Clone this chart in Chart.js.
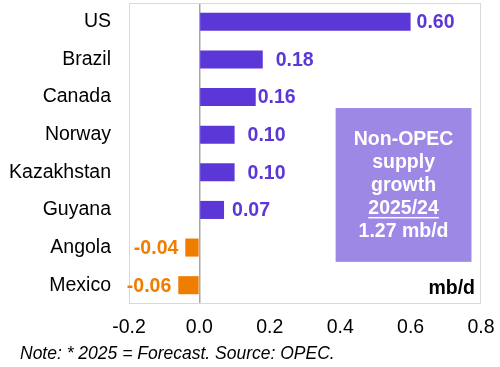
<!DOCTYPE html>
<html>
<head>
<meta charset="utf-8">
<script src="https://cdn.jsdelivr.net/npm/chart.js@4.4.1/dist/chart.umd.min.js"></script>
<style>
html,body{margin:0;padding:0;background:#fff;}
#wrap{width:500px;height:367px;position:relative;}
</style>
</head>
<body>
<div id="wrap"><canvas id="c" width="500" height="367"></canvas></div>
<script>
const categories = ["US","Brazil","Canada","Norway","Kazakhstan","Guyana","Angola","Mexico"];
const growth = [0.60, 0.18, 0.16, 0.10, 0.10, 0.07, -0.04, -0.06];
const xTicks = [-0.2, 0.0, 0.2, 0.4, 0.6, 0.8];
const boxLines = ["Non-OPEC","supply","growth","2025/24","1.27 mb/d"];
const unitLabel = "mb/d";
const noteText = "Note: * 2025 = Forecast. Source: OPEC.";

const PURPLE = "#5B37D8";
const ORANGE = "#EE7D00";
const BOX = "#9D88E6";
const FONT = "'Liberation Sans', Arial, sans-serif";
const labelGap = [6, 13, 2, 13, 13, 8, 7, 7];

const overlay = {
  id: "overlay",
  beforeDraw(chart) {
    const {ctx} = chart;
    ctx.save();
    ctx.fillStyle = "#fff";
    ctx.fillRect(0, 0, chart.width, chart.height);
    ctx.restore();
  },
  beforeDatasetsDraw(chart) {
    const {ctx, chartArea: a} = chart;
    ctx.save();
    ctx.strokeStyle = "#d9d9d9";
    ctx.lineWidth = 1;
    ctx.strokeRect(a.left + 0.5, a.top + 0.5, a.right - a.left - 1, a.bottom - a.top - 1);
    ctx.restore();
  },
  afterDatasetsDraw(chart) {
    const {ctx, chartArea: a, scales} = chart;
    const meta = chart.getDatasetMeta(0);
    ctx.save();
    ctx.font = "bold 19.5px " + FONT;
    ctx.textBaseline = "middle";
    meta.data.forEach((bar, i) => {
      const v = growth[i];
      const t = v.toFixed(2);
      if (v >= 0) {
        ctx.fillStyle = PURPLE;
        ctx.textAlign = "left";
        ctx.fillText(t, bar.x + labelGap[i], bar.y + 1);
      } else {
        ctx.fillStyle = ORANGE;
        ctx.textAlign = "right";
        ctx.fillText(t, bar.x - labelGap[i], bar.y + 1);
      }
    });
    // summary box
    const x0 = scales.x.getPixelForValue(0.387);
    const x1 = scales.x.getPixelForValue(0.773);
    const y0 = scales.y.getPixelForDecimal(0.349);
    const y1 = scales.y.getPixelForDecimal(0.860);
    ctx.fillStyle = BOX;
    ctx.fillRect(x0, y0, x1 - x0, y1 - y0);
    ctx.fillStyle = "#fff";
    ctx.textAlign = "center";
    ctx.font = "bold 19.5px " + FONT;
    const cx = (x0 + x1) / 2;
    const lh = 23;
    const startY = (y0 + y1) / 2 - lh * (boxLines.length - 1) / 2 + 1;
    boxLines.forEach((s, i) => {
      const y = startY + i * lh;
      ctx.fillText(s, cx, y);
      if (i === 3) {
        const w = ctx.measureText(s).width;
        ctx.fillRect(cx - w / 2, y + 8, w, 1.5);
      }
    });
    // unit label
    ctx.fillStyle = "#000";
    ctx.textAlign = "right";
    ctx.fillText(unitLabel, a.right - 6, a.bottom - 15);
    // note
    ctx.font = "italic 17.5px " + FONT;
    ctx.textAlign = "left";
    ctx.fillText(noteText, 20, 354);
    ctx.restore();
  }
};

new Chart(document.getElementById("c"), {
  type: "bar",
  data: {
    labels: categories,
    datasets: [{
      data: growth,
      backgroundColor: growth.map(v => v >= 0 ? PURPLE : ORANGE),
      borderWidth: 0,
      categoryPercentage: 1,
      barPercentage: 0.48
    }]
  },
  options: {
    indexAxis: "y",
    responsive: false,
    animation: false,
    devicePixelRatio: 1,
    layout: { padding: { left: 0, right: 19, top: 3, bottom: 0 } },
    plugins: { legend: { display: false }, tooltip: { enabled: false } },
    scales: {
      x: {
        min: -0.2, max: 0.8,
        afterBuildTicks: s => { s.ticks = xTicks.map(v => ({ value: v })); },
        afterFit: s => { s.height = 63; s.paddingLeft = 0; s.paddingRight = 0; },
        grid: {
          drawTicks: false,
          color: c => (c.tick && Math.abs(c.tick.value) < 1e-9) ? "#a6a6a6" : "rgba(0,0,0,0)",
          lineWidth: 1.5
        },
        border: { display: false },
        ticks: {
          padding: 12,
          color: "#000",
          font: { family: FONT, size: 19.5 },
          callback: v => Number(v).toFixed(1)
        }
      },
      y: {
        afterFit: s => { s.width = 129; s.paddingTop = 0; s.paddingBottom = 0; },
        grid: { display: false, drawTicks: false },
        border: { display: false },
        ticks: {
          padding: 18,
          color: "#000",
          font: { family: FONT, size: 19.5 }
        }
      }
    }
  },
  plugins: [overlay]
});
</script>
</body>
</html>
